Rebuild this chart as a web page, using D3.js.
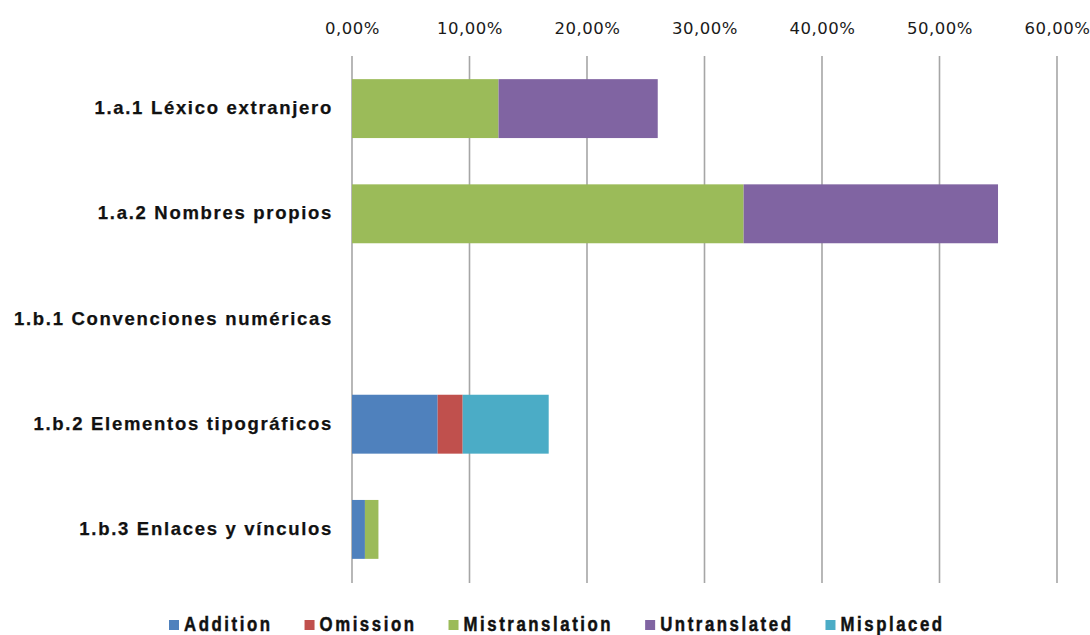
<!DOCTYPE html>
<html>
<head>
<meta charset="utf-8">
<script src="https://cdn.jsdelivr.net/npm/d3@7"></script>
<style>
  html, body { margin: 0; padding: 0; background: #ffffff; }
  svg { display: block; }
</style>
</head>
<body>
<svg id="chart" width="1090" height="635"></svg>
<script>
// Error categories (rows, top to bottom)
const categories = [
  "1.a.1 Léxico extranjero",
  "1.a.2 Nombres propios",
  "1.b.1 Convenciones numéricas",
  "1.b.2 Elementos tipográficos",
  "1.b.3 Enlaces y vínculos"
];

// Share of errors per type, in percent
const addition       = [0,     0,     0, 7.29, 1.10];
const omission       = [0,     0,     0, 2.13, 0];
const mistranslation = [12.47, 33.33, 0, 0,    1.15];
const untranslated   = [13.55, 21.65, 0, 0,    0];
const misplaced      = [0,     0,     0, 7.32, 0];

const seriesNames = ["Addition", "Omission", "Mistranslation", "Untranslated", "Misplaced"];
const seriesValues = [addition, omission, mistranslation, untranslated, misplaced];
const seriesColors = ["#4F81BD", "#C0504D", "#9BBB59", "#8064A2", "#4BACC6"];

const tickValues = [0, 0.1, 0.2, 0.3, 0.4, 0.5, 0.6];

const svg = d3.select("#chart");

const x = d3.scaleLinear().domain([0, 0.6]).range([352, 1057]);
const y = d3.scaleBand().domain(categories).range([56, 582]).paddingInner(0.44).paddingOuter(0.22);

const esLocale = d3.formatLocale({ decimal: ",", thousands: ".", grouping: [3], currency: ["", " €"] });
const pct = esLocale.format(".2%");

// Vertical gridlines
svg.append("g")
  .selectAll("line")
  .data(tickValues)
  .join("line")
  .attr("x1", d => x(d)).attr("x2", d => x(d))
  .attr("y1", 56).attr("y2", 583)
  .attr("stroke", "#a6a6a6")
  .attr("stroke-width", 1.6);

// Top axis labels
const axis = svg.append("g")
  .attr("transform", "translate(0,56)")
  .call(d3.axisTop(x).tickValues(tickValues).tickFormat(pct).tickSize(0).tickPadding(22));
axis.select(".domain").remove();
axis.selectAll("text")
  .attr("font-family", "'DejaVu Sans', Verdana, sans-serif")
  .attr("font-size", 16.5)
  .attr("letter-spacing", "0.5px")
  .attr("fill", "#1a1a1a");

// Stacked bars
const rows = categories.map((c, i) => {
  const r = { category: c };
  seriesNames.forEach((s, j) => { r[s] = seriesValues[j][i] / 100; });
  return r;
});
const stack = d3.stack().keys(seriesNames)(rows);

svg.append("g")
  .selectAll("g")
  .data(stack)
  .join("g")
  .attr("fill", (d, i) => seriesColors[i])
  .selectAll("rect")
  .data(d => d.filter(p => p[1] - p[0] > 0))
  .join("rect")
  .attr("x", d => x(d[0]))
  .attr("y", d => y(d.data.category))
  .attr("width", d => x(d[1]) - x(d[0]))
  .attr("height", y.bandwidth());

// Category labels
svg.append("g")
  .selectAll("text")
  .data(categories)
  .join("text")
  .attr("x", 333)
  .attr("y", d => y(d) + y.bandwidth() / 2 + 5.5)
  .attr("text-anchor", "end")
  .attr("font-family", "'Liberation Sans', Arial, sans-serif")
  .attr("font-weight", "bold")
  .attr("font-size", 18.5)
  .attr("letter-spacing", "1.7px")
  .attr("fill", "#111")
  .attr("stroke", "#111")
  .attr("stroke-width", 0.25)
  .text(d => d);

// Legend: condensed bold labels with square swatches
const legend = svg.append("g");
const narrow = 0.8;
let lx = 169;
seriesNames.forEach((name, i) => {
  legend.append("rect")
    .attr("x", lx).attr("y", 620)
    .attr("width", 10).attr("height", 10)
    .attr("fill", seriesColors[i]);
  const t = legend.append("text")
    .attr("transform", `translate(${lx + 15},631) scale(${narrow},1)`)
    .attr("font-family", "'Liberation Sans', Arial, sans-serif")
    .attr("font-weight", "bold")
    .attr("font-size", 21)
    .attr("letter-spacing", "3.2px")
    .attr("fill", "#111")
    .attr("stroke", "#111")
    .attr("stroke-width", 0.5)
    .text(name);
  lx = lx + 15 + t.node().getComputedTextLength() * narrow + 32;
});
</script>
</body>
</html>
